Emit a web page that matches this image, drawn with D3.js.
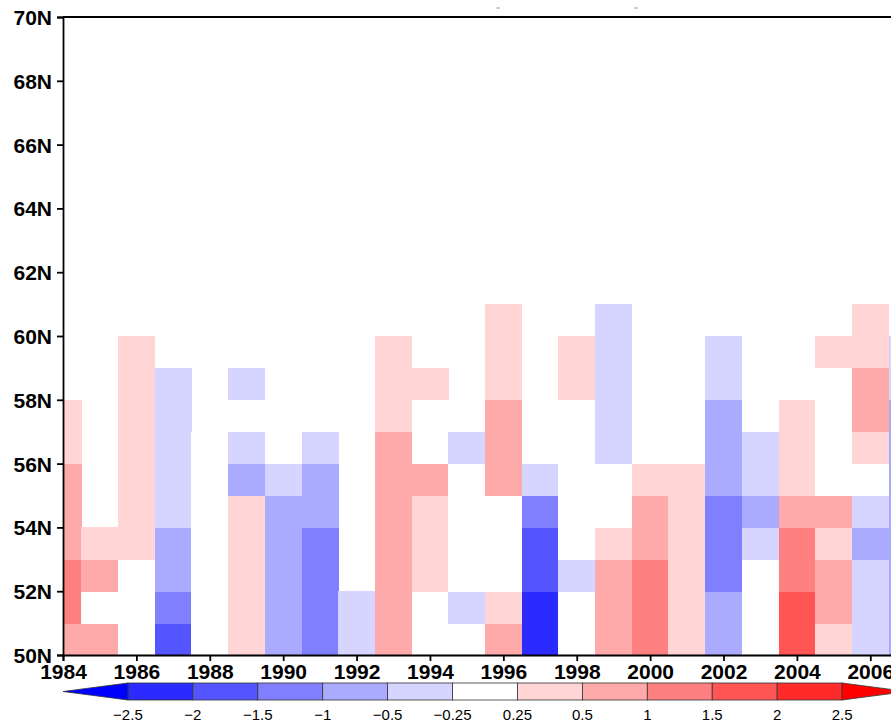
<!DOCTYPE html>
<meta charset="utf-8">
<style>
  body { margin: 0; background: #fff; }
  svg { font-family: "Liberation Sans", Arial, Helvetica, sans-serif; }
  .axis path, .axis line { fill: none; stroke: #000; stroke-width: 1.8px; }
  .axis text { font-size: 21px; font-weight: bold; fill: #000; }
  .cbar text { font-size: 15px; fill: #000; }
</style>
<body>
<div id="graph-container"></div>
<script src="https://d3js.org/d3.v7.min.js"></script>
<script>
  // years on x, latitude (bottom edge of each 1 degree row) on y
  var years = d3.range(1984, 2008);
  var latTicks = [50, 52, 54, 56, 58, 60, 62, 64, 66, 68, 70];
  var yearTicks = [1984, 1986, 1988, 1990, 1992, 1994, 1996, 1998, 2000, 2002, 2004, 2006];

  // contour levels and fill colours (13 colours: below / between / above)
  var levels = [-2.5, -2, -1.5, -1, -0.5, -0.25, 0.25, 0.5, 1, 1.5, 2, 2.5];
  var levelLabels = ["\u22122.5", "\u22122", "\u22121.5", "\u22121", "\u22120.5", "\u22120.25",
                     "0.25", "0.5", "1", "1.5", "2", "2.5"];
  var colors = ["#0000ff", "#2b2bff", "#5555ff", "#8080ff", "#aaaaff", "#d5d5ff", "#ffffff",
                "#ffd5d5", "#ffaaaa", "#ff8080", "#ff5555", "#ff2b2b", "#ff0000"];

  // anomaly per year, one value per latitude row starting at 50N
  var anomaly = [
    [0.7, 1.2, 1.2, 0.7, 0.7, 0.8, 0.4, 0.3],                       // 1984
    [0.6, 0.1, 0.7, 0.4],                                           // 1985
    [0.0, 0.1, 0.2, 0.3, 0.4, 0.4, 0.3, 0.4, 0.3, 0.3],             // 1986
    [-1.8, -1.3, -0.8, -0.6, -0.4, -0.3, -0.4, -0.3, -0.3],         // 1987
    [0.1, 0.0, 0.1, 0.0, -0.1, 0.0, 0.1],                           // 1988
    [0.3, 0.4, 0.4, 0.3, 0.3, -0.6, -0.3, 0.1, -0.3],               // 1989
    [-0.7, -0.8, -0.9, -0.7, -0.6, -0.4],                           // 1990
    [-1.1, -1.2, -1.1, -1.3, -0.8, -0.6, -0.3],                     // 1991
    [-0.3, -0.4],                                                   // 1992
    [0.8, 0.9, 0.7, 0.6, 0.7, 0.6, 0.6, 0.4, 0.3, 0.3],             // 1993
    [0.1, 0.2, 0.4, 0.3, 0.4, 0.6, 0.2, 0.1, 0.3],                  // 1994
    [0.1, -0.3, 0.0, 0.1, 0.2, -0.1, -0.3],                         // 1995
    [0.6, 0.4, 0.2, 0.1, 0.1, 0.6, 0.7, 0.6, 0.4, 0.3, 0.3],        // 1996
    [-2.3, -2.1, -1.8, -1.6, -1.2, -0.4],                           // 1997
    [0.1, -0.1, -0.3, -0.2, 0.0, 0.1, 0.1, 0.2, 0.3, 0.3],          // 1998
    [0.8, 0.7, 0.6, 0.4, 0.2, -0.1, -0.3, -0.4, -0.3, -0.3, -0.3],  // 1999
    [1.2, 1.3, 1.1, 0.8, 0.6, 0.3],                                 // 2000
    [0.4, 0.4, 0.3, 0.4, 0.3, 0.3],                                 // 2001
    [-0.7, -0.9, -1.2, -1.3, -1.1, -0.8, -0.7, -0.6, -0.4, -0.3],   // 2002
    [0.1, 0.0, 0.2, -0.3, -0.6, -0.4, -0.3],                        // 2003
    [1.7, 1.6, 1.3, 1.1, 0.8, 0.4, 0.4, 0.3],                       // 2004
    [0.4, 0.6, 0.7, 0.4, 0.6, 0.1, 0.2, 0.1, 0.2, 0.3],             // 2005
    [-0.3, -0.4, -0.3, -0.6, -0.3, 0.1, 0.4, 0.6, 0.7, 0.4, 0.3],   // 2006
    [-0.6, -0.7, -0.8, -0.7, -0.6, -0.7, -0.6, -0.6, -0.4, -0.3]    // 2007
  ];

  var m = [17, 0, 73, 63], // top, right, bottom, left
      W = 891, H = 728,
      w = 844,
      h = H - m[0] - m[2];

  var x = d3.scaleLinear().domain([1984, 2007]).range([0, w]);
  var y = d3.scaleLinear().domain([50, 70]).range([h, 0]);
  var color = d3.scaleThreshold().domain(levels).range(colors);

  var svg = d3.select("#graph-container").append("svg")
      .attr("width", W)
      .attr("height", H);

  var g = svg.append("g")
      .attr("transform", "translate(" + m[3] + "," + m[0] + ")");

  g.append("clipPath").attr("id", "clip")
    .append("rect").attr("width", w).attr("height", h);

  // flatten into cells
  var cells = [];
  years.forEach(function(yr, i) {
    anomaly[i].forEach(function(v, k) {
      cells.push({year: yr, lat: 50 + k, value: v});
    });
  });

  g.append("g")
      .attr("clip-path", "url(#clip)")
    .selectAll("rect")
    .data(cells)
    .enter().append("rect")
      .attr("x", function(d) { return x(d.year - 0.5); })
      .attr("y", function(d) { return y(d.lat + 1); })
      .attr("width", x(1985) - x(1984) + 0.5)
      .attr("height", y(50) - y(51) + 0.5)
      .attr("fill", function(d) { return color(d.value); })
      .attr("shape-rendering", "crispEdges");

  // axes
  var yAxis = g.append("g")
      .attr("class", "axis")
      .call(d3.axisLeft(y).tickValues(latTicks).tickSize(6).tickPadding(5)
        .tickFormat(function(d) { return d + "N"; }));

  var xAxis = g.append("g")
      .attr("class", "axis")
      .attr("transform", "translate(0," + h + ")")
      .call(d3.axisBottom(x).tickValues(yearTicks).tickSize(6).tickPadding(2)
        .tickFormat(d3.format("d")));

  yAxis.selectAll(".tick text").attr("dy", "0.36em").attr("font-size", "22px");
  xAxis.selectAll(".tick text").attr("dy", "0.74em");

  // top and right frame
  g.append("line").attr("x1", 0).attr("x2", w).attr("y1", 0).attr("y2", 0)
      .attr("stroke", "#000").attr("stroke-width", 1.8);
  g.append("line").attr("x1", w).attr("x2", w).attr("y1", 0).attr("y2", h)
      .attr("stroke", "#000").attr("stroke-width", 1.8);

  // colour bar
  var cbTop = 683, cbH = 17;
  var cx = d3.scaleLinear().domain([0, colors.length]).range([m[3], m[3] + w]);
  var cb = svg.append("g").attr("class", "cbar");

  cb.selectAll("rect")
    .data(colors.slice(1, colors.length - 1))
    .enter().append("rect")
      .attr("x", function(d, i) { return cx(i + 1); })
      .attr("y", cbTop)
      .attr("width", cx(1) - cx(0))
      .attr("height", cbH)
      .attr("fill", function(d) { return d; })
      .attr("stroke", "#333")
      .attr("stroke-width", 0.8);

  cb.append("path")
      .attr("d", "M" + cx(1) + "," + cbTop + "L" + cx(0) + "," + (cbTop + cbH / 2) +
                 "L" + cx(1) + "," + (cbTop + cbH) + "Z")
      .attr("fill", colors[0]).attr("stroke", "#333").attr("stroke-width", 0.8);

  var n = colors.length;
  cb.append("path")
      .attr("d", "M" + cx(n - 1) + "," + cbTop + "L" + cx(n) + "," + (cbTop + cbH / 2) +
                 "L" + cx(n - 1) + "," + (cbTop + cbH) + "Z")
      .attr("fill", colors[n - 1]).attr("stroke", "#333").attr("stroke-width", 0.8);

  cb.selectAll("text")
    .data(levelLabels)
    .enter().append("text")
      .attr("x", function(d, i) { return cx(i + 1); })
      .attr("y", 720)
      .attr("text-anchor", "middle")
      .text(String);

  // leftover marks at the top of the picture
  svg.selectAll(".mark")
    .data([498, 636])
    .enter().append("line")
      .attr("class", "mark")
      .attr("x1", function(d) { return d - 1.5; })
      .attr("x2", function(d) { return d + 1.5; })
      .attr("y1", 8).attr("y2", 8)
      .attr("stroke", "#888").attr("stroke-width", 1);
</script>
</body>
